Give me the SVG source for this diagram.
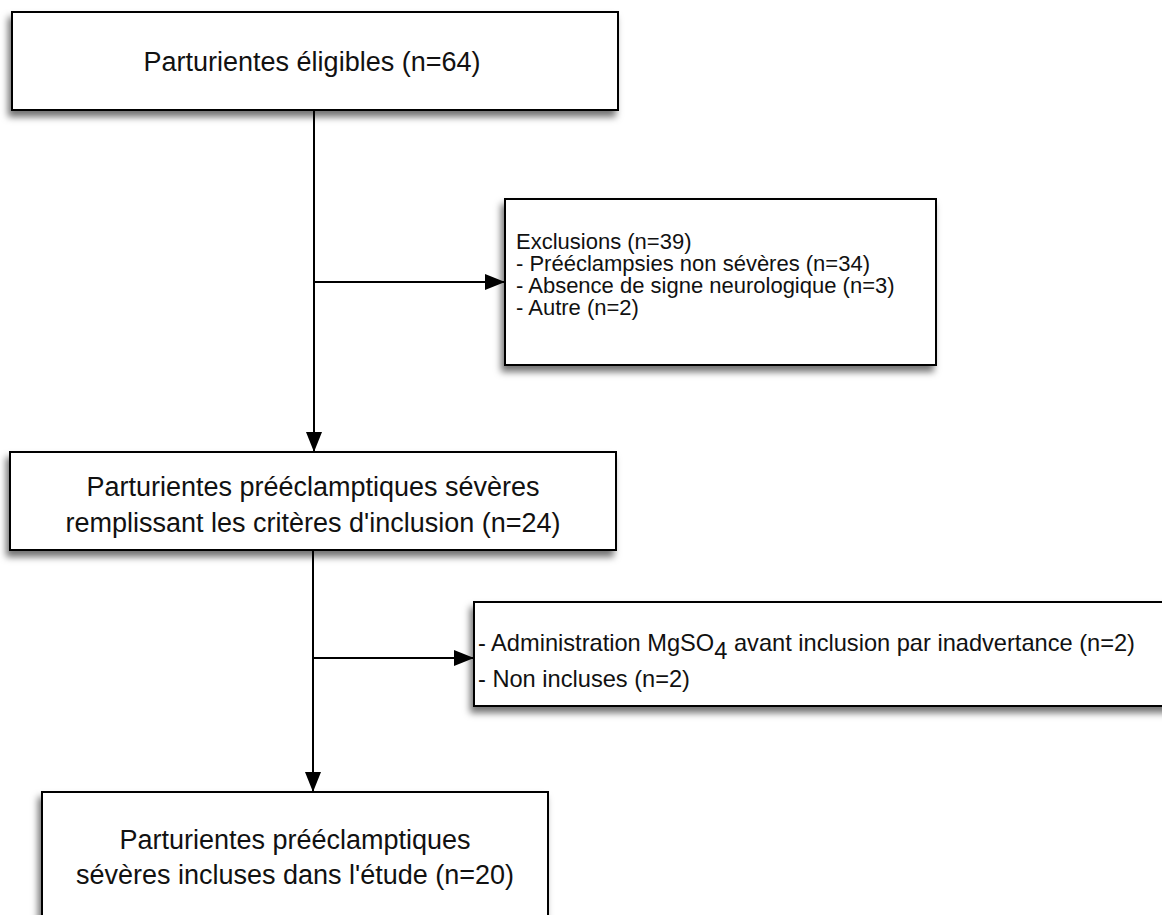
<svg xmlns="http://www.w3.org/2000/svg" width="1162" height="915" viewBox="0 0 1162 915">
<style>
.box{fill:#fff;stroke:#000;stroke-width:2;filter:url(#sh)}
.t{font-family:"Liberation Sans",Arial,sans-serif;fill:#111}
.big{font-size:27px;text-anchor:middle}
.sm{font-size:22px}
.cn{font-size:24px}
.ln{fill:none;stroke:#000;stroke-width:2}
</style>
<defs>
<filter id="sh" x="-10%" y="-10%" width="120%" height="130%">
<feDropShadow dx="-3" dy="6" stdDeviation="3.5" flood-color="#000" flood-opacity="0.55"/>
</filter>
<marker id="ar" markerWidth="20" markerHeight="16" viewBox="0 0 20 16" refX="20" refY="8" orient="auto" markerUnits="userSpaceOnUse">
<path d="M0,0 L20,8 L0,16 Z" fill="#000"/>
</marker>
</defs>
<g id="connectors">
<path class="ln" d="M314,110 V452" marker-end="url(#ar)"/>
<path class="ln" d="M314,282 H505" marker-end="url(#ar)"/>
<path class="ln" d="M313,550 V792" marker-end="url(#ar)"/>
<path class="ln" d="M313,658 H474" marker-end="url(#ar)"/>
</g>
<g id="n1">
<rect class="box" x="12" y="12" width="606" height="98"/>
<text class="t big" x="312" y="71">Parturientes éligibles (n=64)</text>
</g>
<g id="n2">
<rect class="box" x="505" y="199" width="431" height="166"/>
<text class="t sm"><tspan x="516" y="249">Exclusions (n=39)</tspan><tspan x="516" y="271">- Prééclampsies non sévères (n=34)</tspan><tspan x="516" y="293">- Absence de signe neurologique (n=3)</tspan><tspan x="516" y="315">- Autre (n=2)</tspan></text>
</g>
<g id="n3">
<rect class="box" x="10" y="452" width="606" height="98"/>
<text class="t big" x="313" y="496">Parturientes prééclamptiques sévères</text>
<text class="t big" x="313" y="532">remplissant les critères d'inclusion (n=24)</text>
</g>
<g id="n4">
<rect class="box" x="474" y="602" width="700" height="104"/>
<text class="t cn" x="478" y="651" textLength="657" lengthAdjust="spacingAndGlyphs">- Administration MgSO<tspan dy="8">4</tspan><tspan dy="-8"> avant inclusion par inadvertance (n=2)</tspan></text>
<text class="t cn" x="478" y="687" textLength="212" lengthAdjust="spacingAndGlyphs">- Non incluses (n=2)</text>
</g>
<g id="n5">
<rect class="box" x="42" y="792" width="506" height="140"/>
<text class="t big" x="295" y="849">Parturientes prééclamptiques</text>
<text class="t big" x="295" y="884">sévères incluses dans l'étude (n=20)</text>
</g>
</svg>
